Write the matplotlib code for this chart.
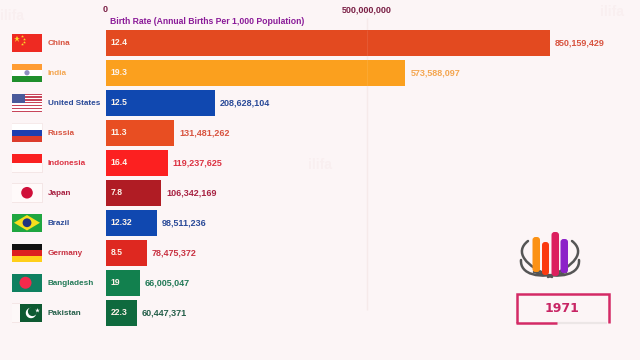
import matplotlib
matplotlib.use("Agg")
import matplotlib.pyplot as plt
from matplotlib.patches import Rectangle, Circle, Polygon, FancyBboxPatch, PathPatch, Wedge
from matplotlib.path import Path

plt.rcParams['font.family'] = ['Liberation Sans', 'DejaVu Sans']

countries = ["China", "India", "United States", "Russia", "Indonesia",
             "Japan", "Brazil", "Germany", "Bangladesh", "Pakistan"]
population = [850159429, 573588097, 208628104, 131481262, 119237625,
              106342169, 98511236, 78475372, 66005047, 60447371]
birth_rate = ["12.4", "19.3", "12.5", "11.3", "16.4", "7.8", "12.32", "8.5", "19", "22.3"]
axis_ticks = [0, 500000000]
axis_title = "Birth Rate (Annual Births Per 1,000 Population)"
year = "1971"

bar_colors = ["#e34a20", "#fba01e", "#1048b0", "#e84e22", "#fc2020",
              "#b01c24", "#1048b0", "#de2820", "#12804e", "#0f6a3e"]
text_colors = ["#d8533f", "#f4a650", "#2a4a98", "#d8533f", "#dc3242",
               "#a82242", "#2a4a98", "#c93242", "#237a58", "#255f4a"]
BG = "#fcf5f6"
CRIMSON = "#d42a66"

W, H = 640, 360
fig = plt.figure(figsize=(6.4, 3.6), dpi=100, facecolor=BG)

# overlay in pixel coordinates for flags, logo and the year box
over = fig.add_axes([0, 0, 1, 1], zorder=3)
over.set_xlim(0, W)
over.set_ylim(H, 0)
over.axis('off')

# bar area, x scale: 0 at 105.5px, 500M at 367px
top, bottom = 14, 328
x0, x1 = 105.5, 630
ax = fig.add_axes([x0 / W, 1 - bottom / H, (x1 - x0) / W, (bottom - top) / H], zorder=2)
ax.patch.set_alpha(0)
ax.set_xlim(0, (x1 - x0) / 261.5 * 500000000)
ax.set_ylim((bottom - 42.75) / 30, (top - 42.75) / 30)
for s in ax.spines.values():
    s.set_visible(False)

ax.vlines(axis_ticks[1], (310 - 42.75) / 30, (top + 4 - 42.75) / 30, color="#f6eaea", lw=1, zorder=0)
ypos = list(range(len(countries)))
ax.barh(ypos, population, height=0.88, color=bar_colors, zorder=1)
ax.vlines(axis_ticks[1], -0.44, 1.44, color="#ffffff", lw=0.6, alpha=0.1, zorder=2)

ax.set_yticks([])
ax.set_xticks(axis_ticks)
ax.set_xticklabels([f"{t:,}" for t in axis_ticks])
ax.tick_params(axis='x', top=True, labeltop=True, bottom=False, labelbottom=False,
               length=0, pad=0, labelsize=6.5, labelcolor="#7a1f45")
for lab in ax.get_xticklabels():
    lab.set_fontweight('bold')

for i, (v, r) in enumerate(zip(population, birth_rate)):
    ax.annotate(f"{v:,}", (v, i), xytext=(5, 0), textcoords='offset pixels', va='center',
                ha='left', fontsize=6.5, fontweight='bold', color=text_colors[i])
    ax.annotate(r, (0, i), xytext=(5, 0), textcoords='offset pixels', va='center',
                ha='left', fontsize=6.2, fontweight='bold', color="#fdf3ea")
    over.text(47.5, 43.25 + 30 * i, countries[i], va='center', ha='left', fontsize=5.9,
              fontweight='bold', color=text_colors[i])

over.text(110, 22, axis_title, va='center', ha='left', fontsize=6.25, fontweight='bold',
          color="#8a1a98")

# faint watermarks
for wx, wy in [(12, 16), (320, 165), (612, 12)]:
    over.text(wx, wy, "ilifa", va='center', ha='center', fontsize=10, fontweight='bold',
              color="#f9eff0", zorder=0)


def rect(x, y, w, h, c, **kw):
    over.add_patch(Rectangle((x, y), w, h, fc=c, ec='none', **kw))


fx, fw, fh = 12, 30, 18.5


def fy(i):
    return 42.75 + 30 * i - fh / 2


# China
y = fy(0)
rect(fx, y, fw, fh, "#ee2a22")
over.plot([fx + 5], [y + 5], marker='*', ms=5, color="#fbd92a", mew=0)
for dx, dy in [(10, 2), (12, 5), (12, 8), (10, 10.5)]:
    over.plot([fx + dx], [y + dy], marker='*', ms=2.2, color="#fbd92a", mew=0)
# India
y = fy(1)
rect(fx, y, fw, fh / 3, "#ff9c33")
rect(fx, y + fh / 3, fw, fh / 3, "#ffffff")
rect(fx, y + 2 * fh / 3, fw, fh / 3, "#1f8f2c")
over.add_patch(Circle((fx + fw / 2, y + fh / 2), 2.6, fc="#8f8fc0", ec='none'))
# United States
y = fy(2)
for k in range(13):
    rect(fx, y + k * fh / 13, fw, fh / 13, "#c8455a" if k % 2 == 0 else "#ffffff")
rect(fx, y, fw * 0.42, fh * 7 / 13, "#4a5a9a")
# Russia
y = fy(3)
rect(fx - 0.5, y - 0.5, fw + 1, fh / 3 + 0.5, "#f6eaea")
rect(fx, y, fw, fh / 3, "#ffffff")
rect(fx, y + fh / 3, fw, fh / 3, "#1c3fb0")
rect(fx, y + 2 * fh / 3, fw, fh / 3, "#dc3c2c")
# Indonesia
y = fy(4)
rect(fx - 0.5, y + fh / 2, fw + 1, fh / 2 + 0.5, "#f4e6e6")
rect(fx, y, fw, fh / 2, "#fa2020")
rect(fx, y + fh / 2, fw, fh / 2, "#fffafa")
# Japan
y = fy(5)
rect(fx - 0.5, y - 0.5, fw + 1, fh + 1, "#f4e6e6")
rect(fx, y, fw, fh, "#fffafa")
over.add_patch(Circle((fx + fw / 2, y + fh / 2), 5.8, fc="#d0103a", ec='none'))
# Brazil
y = fy(6)
rect(fx, y, fw, fh, "#1fa640")
over.add_patch(Polygon([(fx + 2, y + fh / 2), (fx + fw / 2, y + 1.5), (fx + fw - 2, y + fh / 2),
                        (fx + fw / 2, y + fh - 1.5)], fc="#f7df1e", ec='none'))
over.add_patch(Circle((fx + fw / 2, y + fh / 2), 4.4, fc="#20357f", ec='none'))
# Germany
y = fy(7)
rect(fx, y, fw, fh / 3, "#111111")
rect(fx, y + fh / 3, fw, fh / 3, "#dd2020")
rect(fx, y + 2 * fh / 3, fw, fh / 3, "#ffcf1a")
# Bangladesh
y = fy(8)
rect(fx, y, fw, fh, "#0f8060")
over.add_patch(Circle((fx + 13.5, y + fh / 2), 6, fc="#f42a4c", ec='none'))
# Pakistan
y = fy(9)
rect(fx - 0.5, y - 0.5, 8, fh + 1, "#f4e6e6")
rect(fx, y, 7.5, fh, "#fdf8f8")
rect(fx + 7.5, y, fw - 7.5, fh, "#0e5a32")
over.add_patch(Wedge((fx + 19, y + 9.5), 5.2, 0, 360, width=5.2, fc="#ffffff", ec='none'))
over.add_patch(Circle((fx + 20.5, y + 8), 4.6, fc="#0e5a32", ec='none'))
over.plot([fx + 24.5], [y + 6], marker='*', ms=3.5, color="#ffffff", mew=0)

# logo arcs
for verts in [
    [(528, 241), (514, 252), (525, 266), (552, 277)],
    [(572, 241), (586, 252), (575, 266), (548, 277)],
    [(521, 260), (520, 274), (538, 280), (566, 272)],
    [(579, 260), (580, 274), (562, 280), (534, 272)],
]:
    codes = [Path.MOVETO, Path.CURVE4, Path.CURVE4, Path.CURVE4]
    over.add_patch(PathPatch(Path(verts, codes), fc='none', ec="#555555", lw=1.8, capstyle='round'))

# logo bars
for bx, by, bw, bb, c in [(532.5, 237, 7.5, 272, "#fb9114"), (542, 242, 7, 275, "#fb3a10"),
                          (551.5, 232, 7.5, 276, "#dc1f5e"), (560.5, 239, 7.5, 273, "#8c22c8")]:
    over.add_patch(FancyBboxPatch((bx + 2, by + 2), bw - 4, bb - by - 4,
                                  boxstyle="round,pad=2,rounding_size=3", fc=c, ec='none'))

# year box
over.plot([517, 517, 608.5, 608.5], [323, 293.5, 293.5, 323], color=CRIMSON, lw=1.8,
          solid_joinstyle='miter', solid_capstyle='butt')
over.plot([557, 607], [322.5, 322.5], color="#ece6e6", lw=1.6, solid_capstyle='butt')
over.plot([516, 557], [322.5, 322.5], color=CRIMSON, lw=1.8, solid_capstyle='butt')
over.text(562, 308.5, year, va='center', ha='center', fontsize=9, fontweight='bold',
          color="#c82464", family='DejaVu Sans')

fig.savefig("out.png", dpi=100, facecolor=BG)
